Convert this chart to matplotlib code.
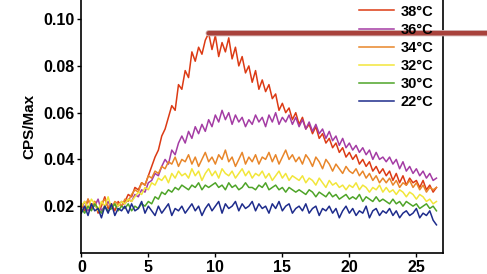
import numpy as np
import matplotlib.pyplot as plt
import matplotlib.patheffects as pe

plt.rcParams['font.family'] = ['Liberation Sans', 'DejaVu Sans']

# time axis (min), sampled every 0.25
time_min = np.round(np.arange(0, 26.51, 0.25), 2)

# CPS/Max values (x 1e-3)
t38 = [21, 18, 23, 19, 22, 17, 20, 24, 19, 21, 18, 22, 20,
       22, 25, 24, 28, 27, 30, 29, 33,
       37, 41, 44, 50, 53, 58, 63, 61, 72, 70,
       78, 75, 86, 82, 88, 85, 91, 94,
       87, 93, 84, 90, 86, 92, 83, 88, 80, 84, 77, 80,
       73, 78, 70, 74, 69, 72, 66, 68, 61, 64, 60, 62, 57, 60,
       55, 58, 53, 55, 51, 54, 49, 51, 47, 49, 45, 47, 43, 45, 41, 43,
       40, 42, 38, 40, 37, 39, 35, 37, 34, 36,
       33, 35, 31, 34, 30, 33, 29, 32, 30, 31, 28, 31, 27, 29, 26, 28]
t36 = [19, 22, 18, 21, 20, 23, 18, 20, 22, 19, 21, 20, 22,
       21, 23, 22, 25, 24, 27, 26, 30,
       31, 34, 33, 37, 40, 38, 44, 42, 47, 50,
       47, 52, 49, 54, 51, 55, 52, 57,
       54, 59, 56, 61, 57, 60, 55, 59, 56, 58, 54, 57,
       55, 59, 56, 58, 54, 59, 56, 60, 55, 58, 56, 59, 55, 58,
       54, 57, 53, 56, 52, 55, 51, 53, 49, 52, 48, 50, 46, 49, 45, 47,
       44, 46, 43, 45, 42, 44, 40, 43, 40, 41,
       39, 41, 38, 40, 36, 39, 35, 37, 34, 36, 33, 35, 32, 34, 31, 32]
t34 = [21, 19, 23, 20, 22, 18, 21, 23, 20, 19, 22, 21, 20,
       23, 22, 25, 27, 26, 30, 29, 33,
       32, 35, 34, 37, 36, 39, 38, 41, 37, 40,
       39, 42, 38, 41, 37, 40, 43, 39,
       41, 38, 42, 40, 44, 39, 41, 37, 40, 43, 38, 41,
       39, 42, 38, 41, 40, 43, 39, 42, 38, 41, 44, 40, 42, 39,
       41, 38, 42, 40, 37, 41, 39, 36, 40, 38, 35, 38, 36, 34, 37, 35,
       34, 36, 33, 35, 32, 34, 31, 33, 30, 32,
       30, 32, 29, 31, 28, 30, 29, 31, 28, 30, 27, 29, 26, 28, 27, 28]
t32 = [20, 22, 19, 23, 21, 18, 22, 20, 24, 19, 21, 20, 22,
       21, 23, 22, 24, 26, 25, 28, 27,
       30, 29, 32, 31, 33, 30, 34, 32, 35, 33,
       34, 32, 36, 33, 35, 31, 34, 36,
       33, 35, 32, 36, 34, 33, 35, 32, 34, 36, 33, 35,
       32, 34, 33, 35, 32, 34, 31, 33, 35, 32, 34, 31, 33, 32,
       31, 33, 30, 32, 31, 29, 32, 30, 28, 31, 29, 30, 28, 29, 27, 29,
       28, 30, 27, 29, 28, 26, 28, 27, 29, 26,
       28, 26, 27, 25, 27, 26, 24, 26, 25, 23, 25, 24, 22, 23, 21, 22]
t30 = [19, 17, 20, 18, 21, 19, 17, 20, 18, 19, 21, 18, 20,
       19, 21, 18, 20, 19, 21, 20, 22,
       21, 24, 23, 26, 25, 27, 26, 28, 27, 29,
       28, 27, 29, 28, 30, 27, 29, 28,
       29, 30, 28, 29, 27, 30, 28, 29, 27, 28, 30, 28,
       28, 27, 29, 28, 30, 27, 28, 29, 27, 28, 26, 28, 27, 26,
       27, 26, 25, 27, 26, 24, 26, 25, 24, 26, 24, 25, 23, 24, 25, 23,
       24, 23, 25, 22, 24, 23, 22, 24, 22, 23,
       22, 21, 23, 21, 22, 20, 22, 21, 20, 21, 19, 20, 21, 19, 20, 18]
t22 = [17, 20, 16, 21, 18, 19, 15, 20, 17, 21, 16, 19, 18,
       20, 17, 21, 18, 19, 22, 17, 20,
       18, 16, 20, 17, 19, 21, 16, 19, 18, 20,
       17, 19, 21, 18, 20, 16, 19, 21,
       18, 20, 22, 17, 21, 19, 20, 22, 18, 21, 19, 20,
       22, 18, 21, 19, 20, 17, 21, 19, 22, 18, 20, 21, 17, 19,
       20, 18, 21, 17, 19, 20, 16, 19, 18, 20, 17, 19, 15, 18, 20, 17,
       19, 16, 18, 17, 20, 15, 18, 19, 16, 18,
       17, 19, 16, 18, 15, 17, 18, 16, 17, 19, 15, 17, 16, 18, 14, 12]

labels = ['38°C', '36°C', '34°C', '32°C', '30°C', '22°C']
colors = ['#dc3a14', '#a43ca4', '#e8862a', '#f2e63a', '#4ea428', '#1e2c8c']
series = [t38, t36, t34, t32, t30, t22]

fig = plt.figure(figsize=(4.87, 2.74), dpi=100)
ax = fig.add_axes([0.167, 0.077, 0.743, 0.923])

for vals, lab, col in zip(series, labels, colors):
    ax.plot(time_min, np.array(vals) * 1e-3, color=col, lw=1.1, label=lab)

ax.set_xlim(0, 27)
ax.set_ylim(0, 0.1082)
ax.set_xticks([0, 5, 10, 15, 20, 25])
ax.set_yticks([0.02, 0.04, 0.06, 0.08, 0.10])
ax.set_yticklabels(['0.02', '0.04', '0.06', '0.08', '0.10'])
ax.tick_params(direction='out', length=3, width=1, labelsize=11.5, pad=2)
for t in ax.get_xticklabels() + ax.get_yticklabels():
    t.set_fontweight('bold')
ax.spines['top'].set_visible(False)
for s in ['left', 'bottom', 'right']:
    ax.spines[s].set_linewidth(1.2)
ax.set_ylabel('CPS/Max', fontsize=11, fontweight='bold', labelpad=5)

leg = ax.legend(loc='upper right', frameon=False, handlelength=2.4,
                handletextpad=0.5, labelspacing=0.28, borderaxespad=0.0,
                bbox_to_anchor=(0.99, 1.005),
                prop={'weight': 'bold', 'size': 10.5})

# pointer line from the 38°C peak to the right edge
peak_i = int(np.argmax(t38))
ax.annotate('', xy=(time_min[peak_i], t38[peak_i] * 1e-3), xycoords='data',
            xytext=(1.02, t38[peak_i] * 1e-3),
            textcoords=('figure fraction', 'data'),
            arrowprops=dict(arrowstyle='-', lw=3.2, color='#a8423c',
                            shrinkA=0, shrinkB=0,
                            path_effects=[pe.Stroke(linewidth=4.5, foreground='#d0b0b0'),
                                          pe.Normal()]),
            annotation_clip=False)

fig.savefig('out.png', dpi=100)
